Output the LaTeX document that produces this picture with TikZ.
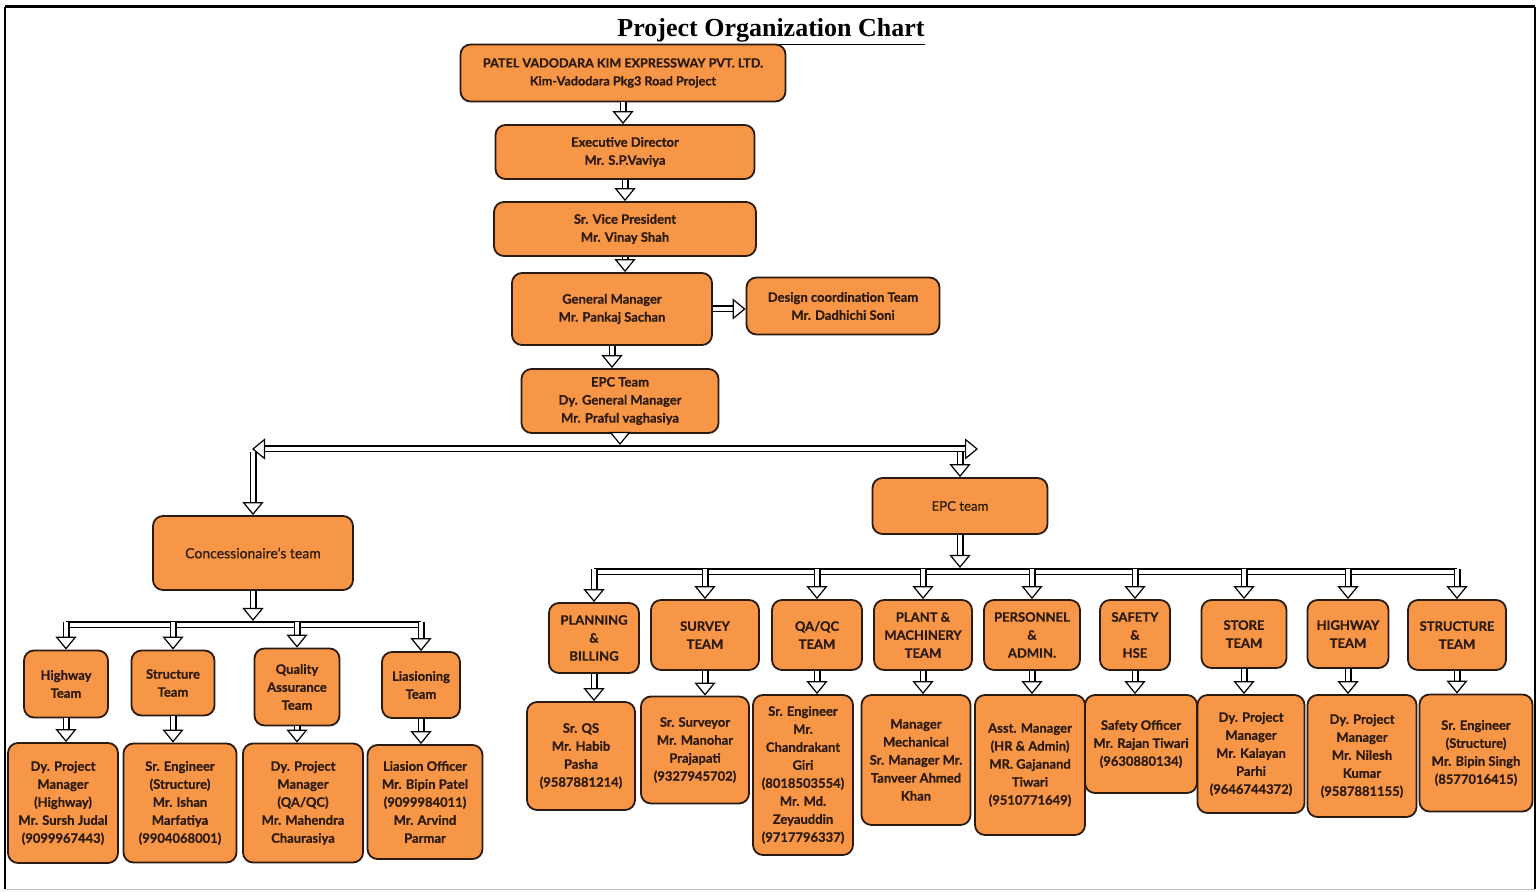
\documentclass[tikz,border=0pt]{standalone}
\usepackage{fontspec}
\setmainfont{Liberation Serif}
\newfontfamily\boxfont{Lato}[FakeBold=0.6]
\usetikzlibrary{arrows.meta,calc}
\definecolor{boxorange}{HTML}{F79646}
\definecolor{boxedge}{HTML}{2B1A0E}
\tikzset{
  blocktip/.tip={Triangle[fill=white,line width=0.6pt,width=10.5pt,length=6.5pt]},
  box/.style={draw=boxedge,line width=0.9pt,fill=boxorange,rounded corners=5pt,align=center,
    inner sep=1pt,text=boxedge,font=\boxfont\bfseries\fontsize{6.5}{9}\selectfont},
  bar/.style={draw=black,line width=0.6pt,double=white,double distance=2.3pt},
  blk/.style={bar,-blocktip}
}
\begin{document}
\begin{tikzpicture}[x=0.5pt,y=-0.5pt]
        \useasboundingbox (0,0) rectangle (1537,892);
        %frame
        \draw[line width=1.5pt] (5,7) -- (1535,7);
        \draw[line width=1.2pt] (5,7) -- (5,889);
        \draw[line width=1pt] (1535,7) -- (1535,889);
        \draw[black!25,line width=0.5pt] (5,889) -- (1535,889);

        %title
        \node[font=\bfseries\fontsize{13}{15}\selectfont] (title) at (771,32) {\underline{Project Organization Chart}};

        %top chain
        \node[box,minimum width=162.5pt,minimum height=28.5pt,font=\boxfont\bfseries\fontsize{6.3}{9}\selectfont] (pvk) at (623,73) {PATEL VADODARA KIM EXPRESSWAY PVT. LTD.\\Kim-Vadodara Pkg3 Road Project};
        \node[box,minimum width=129.5pt,minimum height=27pt] (exd) at (625,152) {Executive Director\\Mr. S.P.Vaviya};
        \node[box,minimum width=131pt,minimum height=27pt] (svp) at (625,229) {Sr. Vice President\\Mr. Vinay Shah};
        \node[box,minimum width=100pt,minimum height=36pt] (gm) at (612,309) {General Manager\\Mr. Pankaj Sachan};
        \node[box,minimum width=96.5pt,minimum height=28.5pt] (dct) at (843,306) {Design coordination Team\\Mr. Dadhichi Soni};
        \node[box,minimum width=98.5pt,minimum height=32pt] (epc) at (620,401) {EPC Team\\Dy. General Manager\\Mr. Praful vaghasiya};

        \draw[blk] (pvk.south) -- (pvk.south |- exd.north);
        \draw[blk] (exd.south) -- (exd.south |- svp.north);
        \draw[blk] (svp.south) -- (svp.south |- gm.north);
        \draw[blk] (gm.east) -- (gm.east -| dct.west);
        \draw[blk] (gm.south) -- (gm.south |- epc.north);

        %split into the two teams
        \coordinate (topl) at (252,449);
        \coordinate (topr) at (978,449);
        \node[box,minimum width=100pt,minimum height=37pt,font=\boxfont\fontsize{7}{8}\selectfont] (conc) at (253,553) {Concessionaire’s team};
        \node[box,minimum width=87.5pt,minimum height=28pt,font=\boxfont\fontsize{6.6}{8}\selectfont] (epct) at (960,506) {EPC team};

        \draw[bar,blocktip-blocktip] (topl) -- (topr);
        \draw[blk] (epc.south) -- ([yshift=2pt]epc.south |- topl);
        \draw[blk] ([yshift=-1.5pt]conc.north |- topl) -- (conc.north);
        \draw[blk] ([yshift=-1.5pt]epct.north |- topr) -- (epct.north);

        %concessionaire's teams
        \node[box,minimum width=42pt,minimum height=33.5pt] (lhw) at (66,684) {Highway\\Team};
        \node[box,minimum width=41.5pt,minimum height=32.5pt] (lst) at (173,683) {Structure\\Team};
        \node[box,minimum width=42.5pt,minimum height=38.5pt] (lqa) at (297,687) {Quality\\Assurance\\Team};
        \node[box,minimum width=39pt,minimum height=33pt] (lli) at (421,685) {Liasioning\\Team};

        \node[box,minimum width=55pt,minimum height=60pt] (phw) at (63,803) {Dy. Project\\Manager\\(Highway)\\Mr. Sursh Judal\\(9099967443)};
        \node[box,minimum width=56.5pt,minimum height=59.5pt] (pst) at (180,803) {Sr. Engineer\\(Structure)\\Mr. Ishan\\Marfatiya\\(9904068001)};
        \node[box,minimum width=60pt,minimum height=59.5pt] (pqa) at (303,803) {Dy. Project\\Manager\\(QA/QC)\\Mr. Mahendra\\Chaurasiya};
        \node[box,minimum width=57.5pt,minimum height=57pt] (pli) at (425,802) {Liasion Officer\\Mr. Bipin Patel\\(9099984011)\\Mr. Arvind\\Parmar};

        \coordinate (lbar) at (0,625);
        \draw[blk] (conc.south) -- ([yshift=2pt]conc.south |- lbar);
        \draw[bar] (lhw.north |- lbar) -- (lli.north |- lbar);
        \draw[blk] ([yshift=1.5pt]lhw.north |- lbar) -- (lhw.north);
        \draw[blk] ([yshift=1.5pt]lst.north |- lbar) -- (lst.north);
        \draw[blk] ([yshift=1.5pt]lqa.north |- lbar) -- (lqa.north);
        \draw[blk] ([yshift=1.5pt]lli.north |- lbar) -- (lli.north);

        \draw[blk] (lhw.south) -- (lhw.south |- phw.north);
        \draw[blk] (lst.south) -- (lst.south |- pst.north);
        \draw[blk] (lqa.south) -- (lqa.south |- pqa.north);
        \draw[blk] (lli.south) -- (lli.south |- pli.north);

        %EPC teams
        \node[box,minimum width=45pt,minimum height=35pt] (tpl) at (594,638) {PLANNING\\\&\\BILLING};
        \node[box,minimum width=54pt,minimum height=35pt] (tsu) at (705,635) {SURVEY\\TEAM};
        \node[box,minimum width=45pt,minimum height=35pt] (tqa) at (817,635) {QA/QC\\TEAM};
        \node[box,minimum width=49pt,minimum height=35pt] (tpm) at (923,635) {PLANT \&\\MACHINERY\\TEAM};
        \node[box,minimum width=48pt,minimum height=35pt] (tpa) at (1032,635) {PERSONNEL\\\&\\ADMIN.};
        \node[box,minimum width=35pt,minimum height=35pt] (tsa) at (1135,635) {SAFETY\\\&\\HSE};
        \node[box,minimum width=42.5pt,minimum height=34pt] (tso) at (1244,634) {STORE\\TEAM};
        \node[box,minimum width=40.5pt,minimum height=34pt] (thw) at (1348,634) {HIGHWAY\\TEAM};
        \node[box,minimum width=49pt,minimum height=35pt] (tss) at (1457,635) {STRUCTURE\\TEAM};

        \node[box,minimum width=54pt,minimum height=54pt] (rpl) at (581,756) {Sr. QS\\Mr. Habib\\Pasha\\(9587881214)};
        \node[box,minimum width=54pt,minimum height=53.5pt] (rsu) at (695,750) {Sr. Surveyor\\Mr. Manohar\\Prajapati\\(9327945702)};
        \node[box,minimum width=50pt,minimum height=80pt] (rqa) at (803,775) {Sr. Engineer\\Mr.\\Chandrakant\\Giri\\(8018503554)\\Mr. Md.\\Zeyauddin\\(9717796337)};
        \node[box,minimum width=54.5pt,minimum height=65pt] (rpm) at (916,760) {Manager\\Mechanical\\Sr. Manager Mr.\\Tanveer Ahmed\\Khan};
        \node[box,minimum width=55pt,minimum height=70pt] (rpa) at (1030,765) {Asst. Manager\\(HR \& Admin)\\MR. Gajanand\\Tiwari\\(9510771649)};
        \node[box,minimum width=56pt,minimum height=49pt] (rsa) at (1141,744) {Safety Officer\\Mr. Rajan Tiwari\\(9630880134)};
        \node[box,minimum width=53.5pt,minimum height=59pt] (rso) at (1251,754) {Dy. Project\\Manager\\Mr. Kalayan\\Parhi\\(9646744372)};
        \node[box,minimum width=54.5pt,minimum height=61pt] (rhw) at (1362,756) {Dy. Project\\Manager\\Mr. Nilesh\\Kumar\\(9587881155)};
        \node[box,minimum width=56.5pt,minimum height=58.5pt] (rss) at (1476,753) {Sr. Engineer\\(Structure)\\Mr. Bipin Singh\\(8577016415)};

        \coordinate (rbar) at (0,572);
        \draw[blk] (epct.south) -- ([yshift=2pt]epct.south |- rbar);
        \draw[bar] (tpl.north |- rbar) -- (tss.north |- rbar);
        \draw[blk] ([yshift=1.5pt]tpl.north |- rbar) -- (tpl.north);
        \draw[blk] ([yshift=1.5pt]tsu.north |- rbar) -- (tsu.north);
        \draw[blk] ([yshift=1.5pt]tqa.north |- rbar) -- (tqa.north);
        \draw[blk] ([yshift=1.5pt]tpm.north |- rbar) -- (tpm.north);
        \draw[blk] ([yshift=1.5pt]tpa.north |- rbar) -- (tpa.north);
        \draw[blk] ([yshift=1.5pt]tsa.north |- rbar) -- (tsa.north);
        \draw[blk] ([yshift=1.5pt]tso.north |- rbar) -- (tso.north);
        \draw[blk] ([yshift=1.5pt]thw.north |- rbar) -- (thw.north);
        \draw[blk] ([yshift=1.5pt]tss.north |- rbar) -- (tss.north);

        \draw[blk] (tpl.south) -- (tpl.south |- rpl.north);
        \draw[blk] (tsu.south) -- (tsu.south |- rsu.north);
        \draw[blk] (tqa.south) -- (tqa.south |- rqa.north);
        \draw[blk] (tpm.south) -- (tpm.south |- rpm.north);
        \draw[blk] (tpa.south) -- (tpa.south |- rpa.north);
        \draw[blk] (tsa.south) -- (tsa.south |- rsa.north);
        \draw[blk] (tso.south) -- (tso.south |- rso.north);
        \draw[blk] (thw.south) -- (thw.south |- rhw.north);
        \draw[blk] (tss.south) -- (tss.south |- rss.north);
\end{tikzpicture}
\end{document}
